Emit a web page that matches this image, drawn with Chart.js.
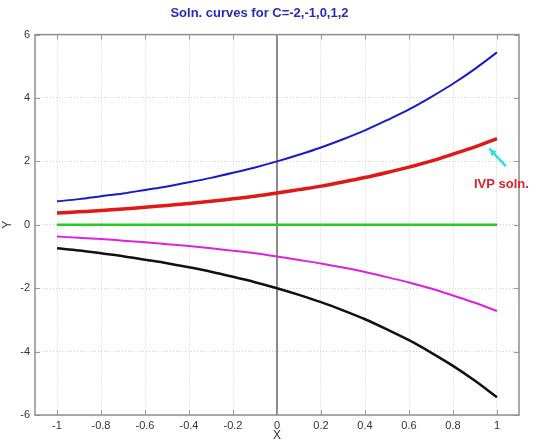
<!DOCTYPE html>
<html>
<head>
<meta charset="utf-8">
<script src="https://cdn.jsdelivr.net/npm/chart.js@4.4.0/dist/chart.umd.min.js"></script>
<style>
  html, body { margin: 0; padding: 0; background: #fff; }
  #wrap { width: 537px; height: 443px; }
</style>
</head>
<body>
<div id="wrap"><canvas id="myChart" width="537" height="443"></canvas></div>
<script>
// x samples and the curves
var xs = [-1, -0.9, -0.8, -0.7, -0.6, -0.5, -0.4, -0.3, -0.2, -0.1, 0, 0.1, 0.2, 0.3, 0.4, 0.5, 0.6, 0.7, 0.8, 0.9, 1];
var curveC2 = [0.74, 0.81, 0.90, 0.99, 1.10, 1.21, 1.34, 1.48, 1.64, 1.81, 2.00, 2.21, 2.44, 2.70, 2.98, 3.30, 3.64, 4.03, 4.45, 4.92, 5.44];
var curveC1 = [0.37, 0.41, 0.45, 0.50, 0.55, 0.61, 0.67, 0.74, 0.82, 0.90, 1.00, 1.11, 1.22, 1.35, 1.49, 1.65, 1.82, 2.01, 2.23, 2.46, 2.72];
var curveC0 = [0, 0, 0, 0, 0, 0, 0, 0, 0, 0, 0, 0, 0, 0, 0, 0, 0, 0, 0, 0, 0];
var curveCm1 = [-0.37, -0.41, -0.45, -0.50, -0.55, -0.61, -0.67, -0.74, -0.82, -0.90, -1.00, -1.11, -1.22, -1.35, -1.49, -1.65, -1.82, -2.01, -2.23, -2.46, -2.72];
var curveCm2 = [-0.74, -0.81, -0.90, -0.99, -1.10, -1.21, -1.34, -1.48, -1.64, -1.81, -2.00, -2.21, -2.44, -2.70, -2.98, -3.30, -3.64, -4.03, -4.45, -4.92, -5.44];
var xTicks = [-1, -0.8, -0.6, -0.4, -0.2, 0, 0.2, 0.4, 0.6, 0.8, 1];
var yTicks = [-6, -4, -2, 0, 2, 4, 6];

function pts(ys) {
    return xs.map(function (x, i) { return { x: x, y: ys[i] }; });
}

// box, x=0 line, inner tick marks, IVP label and arrow
var extras = {
    id: 'extras',
    beforeDatasetsDraw: function (chart) {
        var c = chart.ctx, a = chart.chartArea;
        var sx = chart.scales.x, sy = chart.scales.y;
        c.save();
        var x0 = sx.getPixelForValue(0);
        c.strokeStyle = '#8a8a8a';
        c.lineWidth = 2;
        c.beginPath();
        c.moveTo(x0, a.top);
        c.lineTo(x0, a.bottom);
        c.stroke();
        c.strokeStyle = '#9a9a9a';
        c.lineWidth = 1;
        c.beginPath();
        xTicks.forEach(function (v) {
            var p = Math.round(sx.getPixelForValue(v)) + 0.5;
            c.moveTo(p, a.top); c.lineTo(p, a.top + 5);
            c.moveTo(p, a.bottom); c.lineTo(p, a.bottom - 5);
        });
        yTicks.forEach(function (v) {
            var p = Math.round(sy.getPixelForValue(v)) + 0.5;
            c.moveTo(a.left, p); c.lineTo(a.left + 5, p);
            c.moveTo(a.right, p); c.lineTo(a.right - 5, p);
        });
        c.stroke();
        c.strokeStyle = '#8f8f8f';
        c.lineWidth = 1.5;
        c.strokeRect(a.left, a.top, a.right - a.left, a.bottom - a.top);
        c.restore();
    },
    afterDatasetsDraw: function (chart) {
        var c = chart.ctx;
        var sx = chart.scales.x, sy = chart.scales.y;
        c.save();
        var tx = sx.getPixelForValue(0.965), ty = sy.getPixelForValue(2.4);
        var fx = sx.getPixelForValue(1.04), fy = sy.getPixelForValue(1.85);
        c.strokeStyle = '#33dddd';
        c.fillStyle = '#33dddd';
        c.lineWidth = 2.5;
        c.beginPath();
        c.moveTo(fx, fy);
        c.lineTo(tx, ty);
        c.stroke();
        var ang = Math.atan2(ty - fy, tx - fx);
        c.beginPath();
        c.moveTo(tx, ty);
        c.lineTo(tx - 8 * Math.cos(ang - 0.45), ty - 8 * Math.sin(ang - 0.45));
        c.lineTo(tx - 8 * Math.cos(ang + 0.45), ty - 8 * Math.sin(ang + 0.45));
        c.closePath();
        c.fill();
        c.fillStyle = '#e0202a';
        c.font = 'bold 13px "Liberation Sans", Arial, sans-serif';
        c.textAlign = 'center';
        c.textBaseline = 'middle';
        c.fillText('IVP soln.', sx.getPixelForValue(1.02), sy.getPixelForValue(1.27));
        c.restore();
    }
};

var ctx = document.getElementById('myChart');

var myChart = new Chart(ctx, {
    type: 'line',
    data: {
        datasets: [
            { label: 'C=2', data: pts(curveC2), borderColor: '#1a1acc', borderWidth: 2 },
            { label: 'C=1', data: pts(curveC1), borderColor: '#e01818', borderWidth: 3.5 },
            { label: 'C=0', data: pts(curveC0), borderColor: '#22cc22', borderWidth: 2.5 },
            { label: 'C=-1', data: pts(curveCm1), borderColor: '#dd22dd', borderWidth: 2 },
            { label: 'C=-2', data: pts(curveCm2), borderColor: '#111111', borderWidth: 2.5 }
        ]
    },
    options: {
        responsive: false,
        animation: false,
        elements: {
            point: { radius: 0 },
            line: { tension: 0.4, cubicInterpolationMode: 'monotone' }
        },
        layout: { padding: { left: 0, right: 18, top: 0, bottom: 0 } },
        plugins: {
            legend: { display: false },
            tooltip: { enabled: false },
            title: {
                display: true,
                text: 'Soln. curves for C=-2,-1,0,1,2',
                color: '#2a2ab8',
                font: { family: '"Liberation Sans", Arial, sans-serif', size: 13, weight: 'bold' },
                padding: { top: 6, bottom: 13 }
            }
        },
        scales: {
            x: {
                type: 'linear',
                min: -1.1,
                max: 1.1,
                afterBuildTicks: function (axis) {
                    axis.ticks = xTicks.map(function (v) { return { value: v }; });
                },
                afterFit: function (axis) { axis.height = 28; },
                grid: { color: '#d0d0d0', drawTicks: false },
                border: { display: false, dash: [1, 2] },
                ticks: {
                    color: '#333',
                    padding: 4,
                    maxRotation: 0,
                    font: { family: '"Liberation Sans", Arial, sans-serif', size: 11 },
                    callback: function (v) { return String(Math.round(v * 10) / 10); }
                },
                title: {
                    display: true,
                    text: 'X',
                    color: '#333',
                    padding: { top: 1, bottom: 0 },
                    font: { family: '"Liberation Sans", Arial, sans-serif', size: 12 }
                }
            },
            y: {
                type: 'linear',
                min: -6,
                max: 6,
                afterBuildTicks: function (axis) {
                    axis.ticks = yTicks.map(function (v) { return { value: v }; });
                },
                afterFit: function (axis) { axis.width = 35; },
                grid: { color: '#d0d0d0', drawTicks: false },
                border: { display: false, dash: [1, 2] },
                ticks: {
                    color: '#333',
                    padding: 5,
                    font: { family: '"Liberation Sans", Arial, sans-serif', size: 11 }
                },
                title: {
                    display: true,
                    text: 'Y',
                    color: '#333',
                    padding: { top: 0, bottom: 0 },
                    font: { family: '"Liberation Sans", Arial, sans-serif', size: 12 }
                }
            }
        }
    },
    plugins: [extras]
});
</script>
</body>
</html>
